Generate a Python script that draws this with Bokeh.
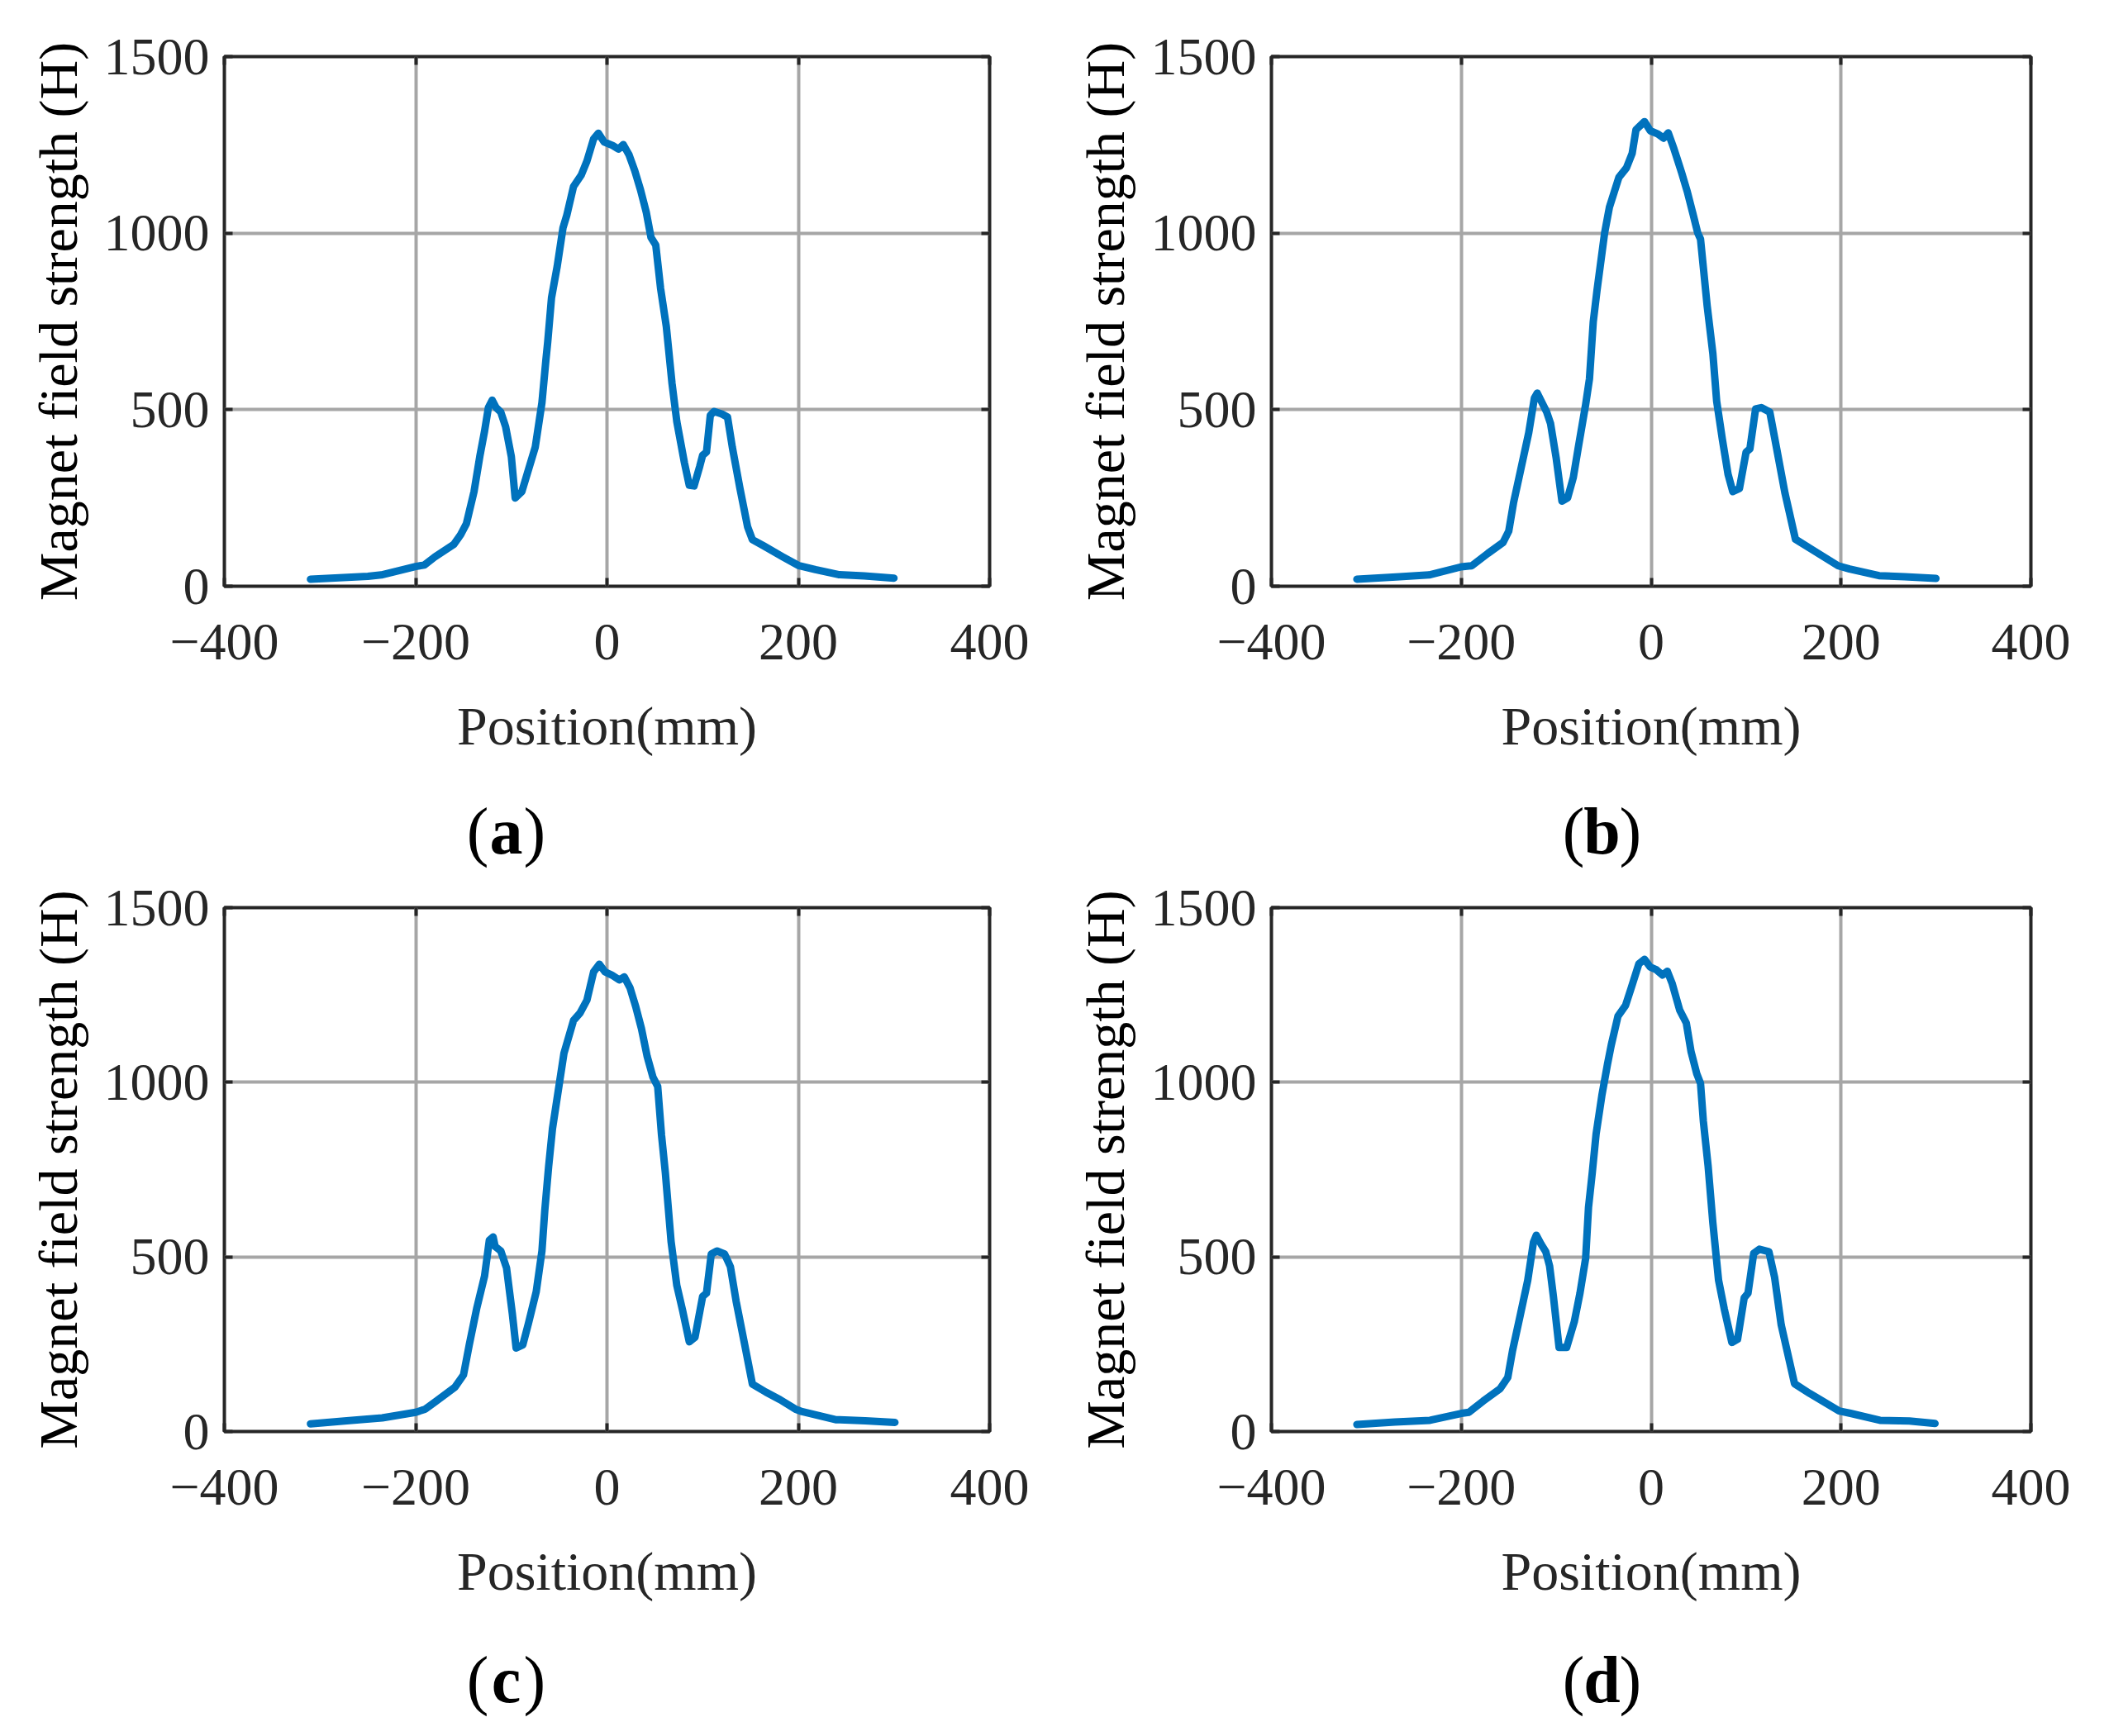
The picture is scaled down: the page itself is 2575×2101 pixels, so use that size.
from bokeh.plotting import figure
from bokeh.layouts import column, row
from bokeh.models import Range1d, FixedTicker, LinearAxis
from bokeh.core.properties import value
from bokeh.embed import file_html
from bokeh.resources import INLINE

FONT = "Liberation Serif"
TXT = "#262626"

x_ticks = [-400, -200, 0, 200, 400]
y_ticks = [0, 500, 1000, 1500]
x_tick_labels = {-400: "\u2212400", -200: "\u2212200", 0: "0", 200: "200", 400: "400"}

# (a)
x_a = [-310, -250, -236, -200, -191, -180, -160, -153, -147, -139, -133, -128, -124, -120, -116,
       -111, -106, -100, -96, -89, -83, -75, -68, -64, -62, -58, -52, -46, -42, -35, -27, -21,
       -14, -9, -3, 6, 12, 17, 23, 29, 35, 41, 46, 51, 56, 62, 68, 73, 81, 86, 91, 97, 100, 104,
       108, 112, 120, 126, 131, 139, 147, 152, 164, 184, 200, 218, 242, 269, 300]
y_a = [20, 28, 32, 56, 60, 83, 119, 146, 177, 268, 367, 439, 506, 527, 506,
       493, 452, 367, 250, 268, 322, 394, 520, 637, 691, 817, 907, 1015, 1051, 1132, 1164, 1204,
       1267, 1283, 1258, 1248, 1238, 1251, 1222, 1177, 1123, 1060, 988, 966, 844, 736, 574, 466,
       349, 286, 284, 340, 371, 380, 484, 495, 488, 479, 394, 277, 168, 132, 114, 83, 59, 47, 33,
       29, 23]

# (b)
x_b = [-310, -265, -234, -200, -189, -172, -156, -150, -145, -137, -129, -123, -120, -115, -110,
       -106, -100, -94, -88, -82, -77, -69, -65, -61, -57, -49, -44, -34, -26, -20, -16, -7, -1,
       7, 13, 18, 24, 32, 38, 44, 49, 52, 56, 59, 65, 69, 75, 81, 86, 93, 100, 104, 110, 116, 125,
       131, 141, 152, 170, 197, 209, 240, 267, 300]
y_b = [20, 27, 32, 55, 58, 93, 124, 156, 236, 335, 434, 533, 547, 520, 493,
       461, 362, 241, 250, 308, 389, 515, 587, 749, 839, 1001, 1073, 1158, 1185, 1226, 1293, 1316,
       1290, 1281, 1269, 1284, 1239, 1172, 1118, 1055, 1001, 983, 875, 794, 659, 524, 416, 317,
       268, 277, 380, 389, 502, 506, 493, 407, 263, 133, 103, 58, 49, 30, 27, 22]

# (c)
x_c = [-310, -272, -235, -200, -190, -179, -159, -150, -144, -136, -128, -123, -119, -117, -111,
       -105, -99, -95, -88, -82, -74, -68, -65, -61, -57, -51, -45, -35, -28, -21, -14, -8, -2,
       5, 13, 18, 24, 30, 36, 42, 48, 53, 57, 61, 67, 73, 79, 86, 92, 100, 104, 109, 115, 123, 129,
       135, 144, 152, 166, 181, 197, 204, 239, 270, 301]
y_c = [22, 31, 39, 55, 64, 86, 127, 162, 248, 355, 445, 548, 557, 530, 517,
       468, 338, 239, 248, 311, 400, 517, 634, 759, 867, 975, 1083, 1177, 1199, 1235, 1316, 1338,
       1316, 1307, 1293, 1302, 1271, 1217, 1154, 1074, 1015, 988, 849, 741, 544, 418, 347, 257,
       270, 387, 396, 508, 517, 508, 472, 373, 248, 136, 113, 91, 64, 57, 34, 31, 26]

# (d)
x_d = [-310, -270, -233, -200, -192, -177, -159, -151, -146, -138, -130, -124, -121, -116, -111,
       -107, -103, -97, -89, -81, -75, -69, -66, -62, -58, -52, -46, -42, -35, -27, -21, -13, -7,
       -1, 5, 12, 17, 22, 30, 37, 42, 48, 52, 55, 60, 65, 71, 77, 85, 91, 98, 102, 108, 114, 124,
       130, 137, 151, 167, 198, 210, 241, 272, 299]
y_d = [20, 27, 32, 52, 55, 87, 123, 155, 232, 332, 433, 542, 562, 537, 515,
       474, 387, 241, 241, 314, 396, 496, 642, 742, 852, 961, 1052, 1107, 1189, 1220, 1270, 1339,
       1352, 1330, 1323, 1307, 1318, 1284, 1207, 1170, 1088, 1025, 997, 888, 760, 597, 433, 351,
       255, 264, 383, 396, 510, 522, 515, 442, 305, 137, 109, 59, 52, 32, 30, 23]


def make_panel(x, y, width, height, right, top, bottom):
    p = figure(width=width, height=height,
               x_range=Range1d(-400, 400), y_range=Range1d(0, 1500),
               output_backend="svg", toolbar_location=None,
               min_border_left=271, min_border_right=right,
               min_border_top=top, min_border_bottom=bottom)
    p.background_fill_color = "white"
    p.border_fill_color = "white"
    p.outline_line_color = TXT
    p.outline_line_width = 4

    p.xaxis.ticker = FixedTicker(ticks=x_ticks)
    p.yaxis.ticker = FixedTicker(ticks=y_ticks)
    p.xaxis.major_label_overrides = x_tick_labels
    p.xaxis.axis_label = "Position(mm)"
    p.yaxis.axis_label = "Magnet field strength (H)"
    p.xaxis.major_label_standoff = 46
    p.yaxis.major_label_standoff = 18
    p.xaxis.axis_label_standoff = 41
    p.yaxis.axis_label_standoff = 16
    p.yaxis.axis_label_text_color = "black"
    p.xaxis.axis_label_text_color = TXT

    for ax in p.axis:
        ax.axis_line_color = None
        ax.major_tick_in = 10
        ax.major_tick_out = 0
        ax.major_tick_line_width = 4
        ax.major_tick_line_color = TXT
        ax.minor_tick_line_color = None
        ax.major_label_text_font = FONT
        ax.major_label_text_font_size = "64px"
        ax.major_label_text_color = TXT
        ax.axis_label_text_font = FONT
        ax.axis_label_text_font_size = "66px"
        ax.axis_label_text_font_style = "normal"

    # inward ticks on the top and right sides of the box (no labels there)
    for loc, ticks in (("right", y_ticks), ("above", x_ticks)):
        ax = LinearAxis(ticker=FixedTicker(ticks=ticks))
        ax.axis_line_color = None
        ax.major_tick_in = 10
        ax.major_tick_out = 0
        ax.major_tick_line_width = 4
        ax.major_tick_line_color = TXT
        ax.minor_tick_line_color = None
        ax.major_label_overrides = {t: "" for t in ticks}
        ax.major_label_text_font_size = "1px"
        ax.major_label_text_color = None
        ax.major_label_standoff = 0
        p.add_layout(ax, loc)

    p.xgrid.ticker = FixedTicker(ticks=x_ticks)
    p.ygrid.ticker = FixedTicker(ticks=y_ticks)
    p.grid.grid_line_color = "#a6a6a6"
    p.grid.grid_line_width = 4

    p.line(x, y, line_color="#0072BD", line_width=9,
           line_join="round", line_cap="round")
    return p


def make_tag(tag, width, height, cx, cy):
    # strip under a panel holding its "(a)" style caption
    t = figure(width=width, height=height,
               x_range=Range1d(0, width), y_range=Range1d(0, height),
               output_backend="svg", toolbar_location=None, min_border=0,
               x_axis_location=None, y_axis_location=None)
    t.outline_line_color = None
    t.xgrid.grid_line_color = None
    t.ygrid.grid_line_color = None
    t.background_fill_color = "white"
    t.border_fill_color = "white"
    style = dict(text_baseline="middle", text_font=value(FONT),
                 text_font_size="80px", text_color="black")
    t.text(x=[cx - 21], y=[cy], text=["("], text_align="right", **style)
    t.text(x=[cx], y=[cy], text=[tag], text_align="center", text_font_style="bold", **style)
    t.text(x=[cx + 21], y=[cy], text=[")"], text_align="left", **style)
    return t


p1 = make_panel(x_a, y_a, 1267, 954, 70, 68, 245)
p2 = make_panel(x_b, y_b, 1270, 954, 80, 68, 245)
t1 = make_tag("a", 1267, 110, 612, 59)
t2 = make_tag("b", 1270, 110, 671, 59)
p3 = make_panel(x_c, y_c, 1267, 913, 70, 34, 245)
p4 = make_panel(x_d, y_d, 1270, 913, 80, 34, 245)
t3 = make_tag("c", 1267, 110, 612, 55)
t4 = make_tag("d", 1270, 110, 671, 55)

p = column(row(p1, p2), row(t1, t2), row(p3, p4), row(t3, t4))

open("out.html", "w").write(file_html(p, INLINE))
